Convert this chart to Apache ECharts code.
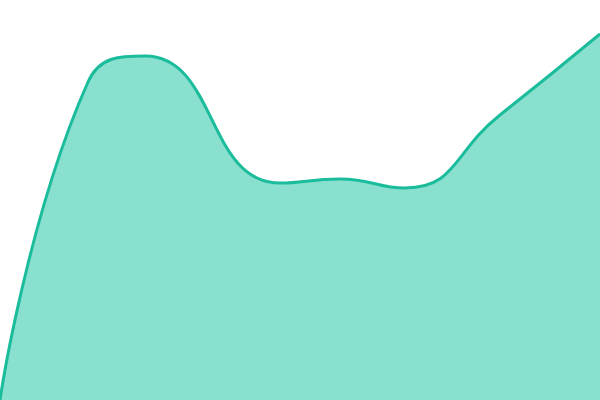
<!DOCTYPE html>
<html>
<head>
<meta charset="utf-8">
<script src="https://cdn.jsdelivr.net/npm/echarts@6/dist/echarts.min.js"></script>
<style>
  html, body { margin: 0; padding: 0; background: #fff; }
  #chart { width: 600px; height: 400px; }
</style>
</head>
<body>
<div id="chart"></div>
<script>
// values: x in days (0..60), y in 0..100
var days = [0, 8.8, 14.5, 28, 34, 40.5, 50, 60];
var values = [0, 79.5, 86, 54.25, 55.25, 53, 71.25, 91.5];

var seriesData = days.map(function (d, i) { return [d, values[i]]; });

var myChart = echarts.init(document.getElementById('chart'));
var option = {
    animation: false,
    grid: { left: 0, right: 0, top: 0, bottom: 0 },
    xAxis: {
        type: 'value',
        min: 0,
        max: 60,
        show: false
    },
    yAxis: {
        type: 'value',
        min: 0,
        max: 100,
        show: false
    },
    series: [
        {
            type: 'line',
            smooth: true,
            symbol: 'none',
            data: seriesData,
            lineStyle: { color: '#1abc9c', width: 3 },
            areaStyle: { color: '#8ae0cf', opacity: 1 }
        }
    ]
};
myChart.setOption(option);
</script>
</body>
</html>
